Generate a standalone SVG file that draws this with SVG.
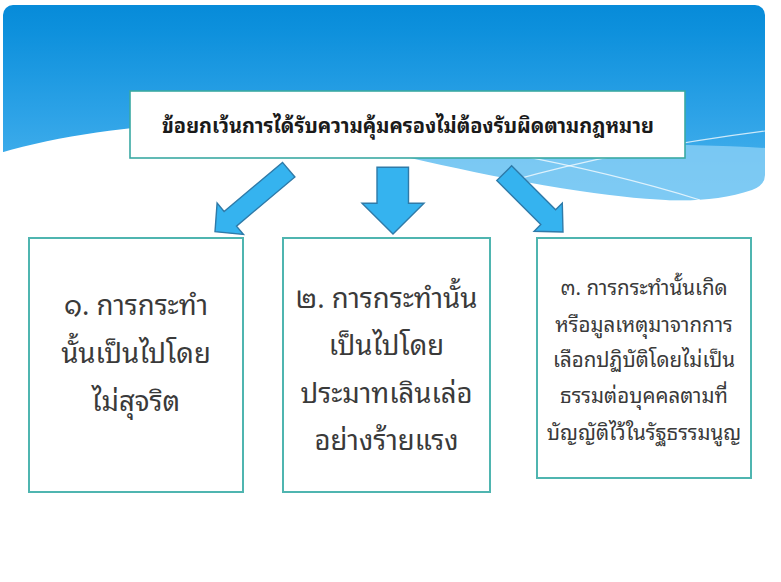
<svg xmlns="http://www.w3.org/2000/svg" width="781" height="582" viewBox="0 0 781 582">
<defs>
<linearGradient id="sky" x1="0" y1="0" x2="0" y2="1">
<stop offset="0" stop-color="#078bd9"/>
<stop offset="0.12" stop-color="#0d90dc"/>
<stop offset="0.55" stop-color="#2ea3e7"/>
<stop offset="1" stop-color="#52b8ef"/>
</linearGradient>
<style>
.box{fill:#ffffff;stroke:#4fb5b0;stroke-width:2}
.tbox{fill:#ffffff;stroke:#3aa9a3;stroke-width:1.6}
.arrow{fill:#35b3ef;stroke:#2f7aa8;stroke-width:1.4;stroke-linejoin:miter}
.big{font-family:'Noto Sans Thai Looped','Noto Sans Thai','Tahoma','DejaVu Sans',sans-serif;font-size:27.5px;fill:#3a3a3a;text-anchor:middle}
.small{font-family:'Noto Sans Thai Looped','Noto Sans Thai','Tahoma','DejaVu Sans',sans-serif;font-size:20.5px;fill:#3a3a3a;text-anchor:middle}
.title{font-family:'Noto Sans Thai Looped','Noto Sans Thai','Tahoma','DejaVu Sans',sans-serif;font-size:20px;font-weight:bold;fill:#1a1a1a;text-anchor:middle}
.wl{fill:none;stroke:#ffffff;stroke-width:1.2;opacity:0.75}
</style>
</defs>
<rect width="781" height="582" fill="#ffffff"/>
<g id="background">
<rect x="3" y="5" width="762" height="205" rx="10" fill="url(#sky)"/>
<path d="M330,152 C480,146 640,140 765,148 L765,200 L330,200 Z" fill="#8fd2f5" opacity="0.75"/>
<path d="M0,153 C70,133 160,121 230,126 C330,134 450,172 580,191 C650,201 705,206 752,190 Q765,185 765,175 L781,175 L781,582 L0,582 Z" fill="#ffffff"/>
<path class="wl" d="M470,193 Q600,152 765,131"/>
<path class="wl" d="M500,152 Q610,172 700,200"/>
</g>
<g id="node-title">
<rect class="tbox" x="130" y="91" width="555" height="67"/>
<text class="title" x="408" y="133">ข้อยกเว้นการได้รับความคุ้มครองไม่ต้องรับผิดตามกฎหมาย</text>
</g>
<g id="connectors">
<polygon class="arrow" points="282.5,162.4 294.9,177 236.5,226.1 243.5,234.5 215,231.7 217.1,203.1 224.1,211.5"/>
<polygon class="arrow" points="377,167.3 408.5,167.3 408.5,203.3 424,203.3 393,234 362,203.3 377,203.3"/>
<polygon class="arrow" points="511.6,165.8 555.6,209.8 562.3,203.1 563,232 534.1,231.3 540.8,224.6 496.8,180.6"/>
</g>
<g id="node-1">
<rect class="box" x="29" y="238" width="214" height="254"/>
<text class="big" x="136" y="315">๑. การกระทำ</text>
<text class="big" x="136" y="363">นั้นเป็นไปโดย</text>
<text class="big" x="136" y="411">ไม่สุจริต</text>
</g>
<g id="node-2">
<rect class="box" x="283" y="238" width="207" height="254"/>
<text class="big" x="386.5" y="308">๒. การกระทำนั้น</text>
<text class="big" x="386.5" y="355">เป็นไปโดย</text>
<text class="big" x="386.5" y="403">ประมาทเลินเล่อ</text>
<text class="big" x="386.5" y="450">อย่างร้ายแรง</text>
</g>
<g id="node-3">
<rect class="box" x="537" y="238" width="214" height="240"/>
<text class="small" x="644" y="295">๓. การกระทำนั้นเกิด</text>
<text class="small" x="644" y="331.5">หรือมูลเหตุมาจากการ</text>
<text class="small" x="644" y="367">เลือกปฏิบัติโดยไม่เป็น</text>
<text class="small" x="644" y="403">ธรรมต่อบุคคลตามที่</text>
<text class="small" x="644" y="439.5">บัญญัติไว้ในรัฐธรรมนูญ</text>
</g>
</svg>
